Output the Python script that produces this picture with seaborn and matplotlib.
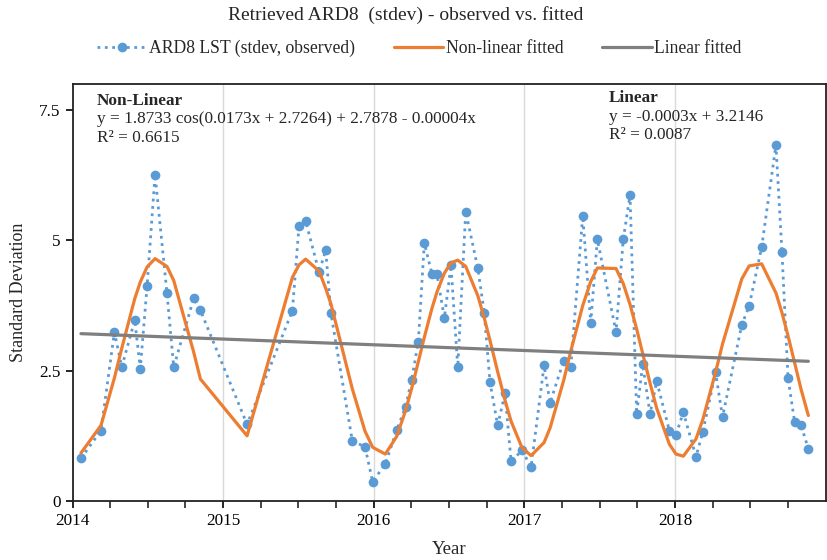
import matplotlib
matplotlib.use("Agg")
import matplotlib.pyplot as plt
import seaborn as sns
import pandas as pd

# ---- data ----
obs_year = [2014.056, 2014.189, 2014.278, 2014.327, 2014.413, 2014.450, 2014.495, 2014.548,
            2014.627, 2014.672, 2014.805, 2014.849, 2015.159, 2015.460, 2015.504, 2015.548,
            2015.637, 2015.681, 2015.716, 2015.858, 2015.942, 2015.993, 2016.077, 2016.153,
            2016.212, 2016.252, 2016.296, 2016.336, 2016.387, 2016.420, 2016.469, 2016.513,
            2016.558, 2016.611, 2016.691, 2016.734, 2016.772, 2016.823, 2016.872, 2016.912,
            2016.985, 2017.045, 2017.131, 2017.171, 2017.261, 2017.308, 2017.388, 2017.441,
            2017.485, 2017.609, 2017.657, 2017.702, 2017.746, 2017.786, 2017.835, 2017.879,
            2017.963, 2018.007, 2018.056, 2018.140, 2018.185, 2018.270, 2018.316, 2018.444,
            2018.493, 2018.576, 2018.671, 2018.711, 2018.751, 2018.795, 2018.837, 2018.886]

obs_std = [0.82, 1.35, 3.24, 2.57, 3.47, 2.54, 4.12, 6.26,
           3.99, 2.57, 3.89, 3.66, 1.47, 3.65, 5.28, 5.37,
           4.39, 4.81, 3.60, 1.15, 1.04, 0.37, 0.71, 1.36,
           1.81, 2.33, 3.05, 4.95, 4.35, 4.35, 3.51, 4.52,
           2.57, 5.55, 4.47, 3.61, 2.28, 1.45, 2.07, 0.76,
           0.97, 0.65, 2.60, 1.88, 2.69, 2.57, 5.47, 3.42,
           5.02, 3.24, 5.02, 5.87, 1.67, 2.62, 1.67, 2.30,
           1.35, 1.27, 1.70, 0.85, 1.32, 2.47, 1.61, 3.38,
           3.74, 4.87, 6.83, 4.77, 2.36, 1.51, 1.46, 1.00]

nonlin_fit = [0.92, 1.45, 2.36, 2.93, 3.88, 4.20, 4.49, 4.65,
              4.50, 4.23, 2.85, 2.34, 1.25, 4.29, 4.53, 4.64,
              4.41, 4.08, 3.78, 2.15, 1.34, 1.03, 0.90, 1.24,
              1.74, 2.16, 2.67, 3.14, 3.70, 4.01, 4.37, 4.57,
              4.62, 4.50, 3.94, 3.51, 3.08, 2.48, 1.93, 1.53,
              1.02, 0.87, 1.12, 1.40, 2.31, 2.87, 3.75, 4.21,
              4.47, 4.46, 4.17, 3.77, 3.30, 2.83, 2.26, 1.78,
              1.09, 0.90, 0.86, 1.19, 1.56, 2.47, 3.01, 4.26,
              4.51, 4.55, 3.99, 3.61, 3.17, 2.65, 2.15, 1.64]

lin_year = [2014.056, 2018.886]
lin_fit = [3.21, 2.68]

x_ticks = [2014, 2015, 2016, 2017, 2018]
y_ticks = [0, 2.5, 5, 7.5]
y_tick_labels = ["0", "2.5", "5", "7.5"]

title = "Retrieved ARD8  (stdev) - observed vs. fitted"
lab_obs = "ARD8 LST (stdev, observed)"
lab_nl = "Non-linear fitted"
lab_lin = "Linear fitted"

# ---- style ----
sns.set_style("white")
plt.rcParams['font.family'] = ['Liberation Serif', 'DejaVu Serif']

obs_df = pd.DataFrame({"year": obs_year, "std": obs_std, "fit": nonlin_fit})
lin_df = pd.DataFrame({"year": lin_year, "fit": lin_fit})

fig = plt.figure(figsize=(8.27, 5.6), dpi=100)
ax = fig.add_axes([0.0877, 0.1054, 0.9105, 0.7446])

# vertical year gridlines
for xt in x_ticks[1:]:
    ax.axvline(xt, color="#D9D9D9", lw=1.0, zorder=0)

sns.lineplot(data=obs_df, x="year", y="std", ax=ax, color="#5B9BD5", linestyle=":",
             linewidth=2.0, marker="o", markersize=7, markeredgewidth=0,
             estimator=None, sort=False, label=lab_obs, zorder=3)
sns.lineplot(data=obs_df, x="year", y="fit", ax=ax, color="#ED7D31", linewidth=2.3,
             estimator=None, sort=False, label=lab_nl, zorder=4)
sns.lineplot(data=lin_df, x="year", y="fit", ax=ax, color="#7F7F7F", linewidth=2.3,
             estimator=None, sort=False, label=lab_lin, zorder=4)

ax.set_xlim(2014, 2019)
ax.set_ylim(0, 8)
ax.set_xticks(x_ticks)
ax.set_xticks([2014 + 0.25 * i for i in range(20)], minor=True)
ax.set_yticks(y_ticks)
ax.set_yticklabels(y_tick_labels)
ax.tick_params(axis="both", which="major", direction="out", length=5, width=1.2,
               labelsize=12.3, colors="black", bottom=True, left=True)
ax.tick_params(axis="x", which="minor", direction="out", length=5, width=1.2, bottom=True)
for side in ["left", "bottom", "top", "right"]:
    ax.spines[side].set_visible(True)
    ax.spines[side].set_color("#222222")
    ax.spines[side].set_linewidth(1.3)

ax.set_xlabel("Year", fontsize=13.5, labelpad=9)
ax.set_ylabel("Standard Deviation", fontsize=13, labelpad=9)

# annotations
fs_ann = 12.4
ax.text(2014.16, 7.68, "Non-Linear", fontsize=fs_ann, fontweight="bold", va="center", ha="left")
ax.text(2014.16, 7.32, "y = 1.8733 cos(0.0173x + 2.7264) + 2.7878 - 0.00004x", fontsize=fs_ann,
        va="center", ha="left")
ax.text(2014.16, 6.96, "R² = 0.6615", fontsize=fs_ann, va="center", ha="left")
ax.text(2017.56, 7.74, "Linear", fontsize=fs_ann, fontweight="bold", va="center", ha="left")
ax.text(2017.56, 7.37, "y = -0.0003x + 3.2146", fontsize=fs_ann, va="center", ha="left")
ax.text(2017.56, 7.02, "R² = 0.0087", fontsize=fs_ann, va="center", ha="left")

handles, labels = ax.get_legend_handles_labels()
if ax.legend_:
    ax.legend_.remove()
fig.legend(handles, labels, loc="center", bbox_to_anchor=(0.507, 0.914), ncol=3,
           frameon=False, fontsize=12.7, handlelength=2.8, handletextpad=0.15,
           columnspacing=2.2)

fig.suptitle(title, fontsize=14, x=0.49, y=0.973, va="center")

fig.savefig("out.png", dpi=100)
